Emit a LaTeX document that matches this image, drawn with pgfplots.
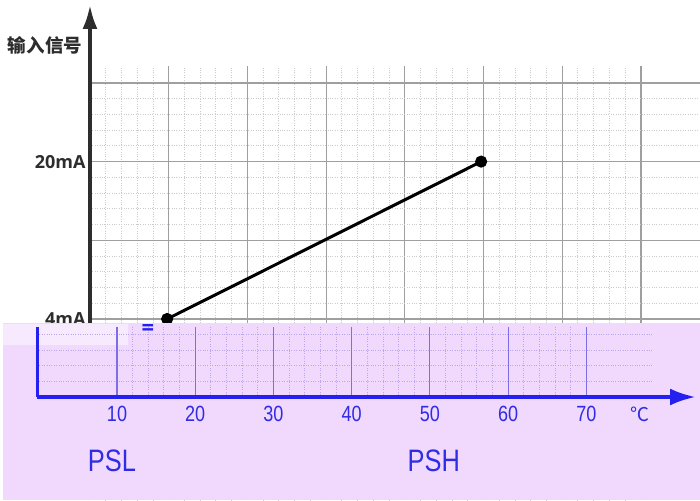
\documentclass[border=0pt]{standalone}
\usepackage{pgfplots}
\pgfplotsset{compat=1.18}
\usepackage{fontspec}
\setmainfont{Open Sans}
\newfontfamily\cjk{Noto Sans CJK SC}
\newfontfamily\narrow[FakeStretch=0.82]{Liberation Sans}
\usetikzlibrary{arrows.meta}
\definecolor{purplebg}{RGB}{240,217,253}
\definecolor{axblue}{RGB}{36,32,240}
\definecolor{txtblue}{RGB}{48,44,230}
\definecolor{gridmaj}{RGB}{125,110,232}
\definecolor{gridmin}{RGB}{185,165,240}
\definecolor{dark}{RGB}{45,45,45}
\begin{document}
\begin{tikzpicture}[x=1pt,y=1pt]
\useasboundingbox (0,0) rectangle (700,500);
% top panel (grey grid)
\begin{axis}[at={(90pt,0pt)}, anchor=south west, scale only axis,
  width=610pt, height=434pt,
  xmin=0, xmax=7.751, ymin=-2.300, ymax=3.215,
  axis lines=left,
  x axis line style={draw=none},
  y axis line style={line width=3.5pt, draw=dark, -{Latex[length=24pt,width=15pt]}, shorten >=-61pt},
  xtick={0,...,7}, xticklabels={},
  ytick={-2,-1,0,1,2,3}, yticklabels={,,4mA,,20mA,},
  minor tick num=4,
  major tick length=0pt, minor tick length=0pt,
  grid=both,
  major grid style={draw=gray!75, line width=1.2pt},
  minor grid style={draw=gray!40, dotted, line width=0.9pt},
  yticklabel style={font=\bfseries\fontsize{18}{18}\selectfont, text=dark, xshift=-1pt},
  clip=false,
]
\addplot[line width=3pt, black, mark=*, mark size=4.5pt, mark options={solid}]
  coordinates {(0.98,0) (4.97,2)};
\end{axis}
\node[font=\cjk\bfseries\fontsize{18.5}{18.5}\selectfont, text=dark] at (45,455) {输入信号};
% bottom panel (purple)
\fill[purplebg] (3,0) rectangle (700,177);
\fill[white!45!purplebg] (3,155) rectangle (128,176);
% horizontal dotted grid of the bottom panel
\begin{axis}[at={(37pt,103pt)}, anchor=south west, scale only axis,
  width=615pt, height=70pt,
  xmin=-0.23, xmax=78.4, ymin=0, ymax=4.5,
  axis lines=left,
  axis line style={draw=none},
  xtick=\empty, ytick={1,2,3,4}, yticklabels={},
  major tick length=0pt,
  ymajorgrids,
  major grid style={draw=gridmin, dotted, line width=0.9pt},
]
\addplot[draw=none] coordinates {(0,0)};
\end{axis}
\begin{axis}[at={(37pt,103pt)}, anchor=south west, scale only axis,
  width=615pt, height=70pt,
  xmin=-0.23, xmax=78.4, ymin=0, ymax=4.5,
  axis lines=left,
  x axis line style={line width=4pt, draw=axblue, -{Latex[length=26pt,width=17pt]}, shorten >=-44pt},
  y axis line style={line width=3pt, draw=axblue, -},
  xtick={10,20,...,70},
  minor x tick num=4,
  ytick=\empty,
  major tick length=0pt, minor tick length=0pt,
  xmajorgrids, xminorgrids,
  major grid style={draw=gridmaj, line width=1.1pt},
  minor grid style={draw=gridmin, dotted, line width=0.9pt},
  /pgf/number format/assume math mode=true,
  xticklabel style={font=\narrow\fontsize{22}{22}\selectfont, text=txtblue, anchor=center, yshift=-17pt},
  clip=false,
]
\node[font=\cjk\fontsize{19}{19}\selectfont, text=txtblue, yshift=-17pt] at (axis cs:76.9,0) {℃};
\node[font=\narrow\fontsize{31}{31}\selectfont, text=txtblue, yshift=-64pt] at (axis cs:9.36,0) {PSL};
\node[font=\narrow\fontsize{31}{31}\selectfont, text=txtblue, yshift=-64pt] at (axis cs:50.5,0) {PSH};
\end{axis}
\node[font=\bfseries\fontsize{22}{22}\selectfont, text=axblue, inner sep=0pt] at (148,170) {=};
\end{tikzpicture}
\end{document}
